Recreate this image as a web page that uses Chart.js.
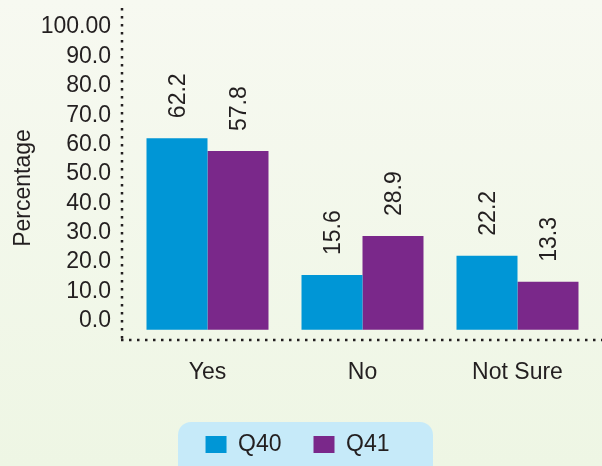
<!DOCTYPE html>
<html>
<head>
<meta charset="utf-8">
<script src="https://cdn.jsdelivr.net/npm/chart.js@4"></script>
<style>
    body { margin: 0; background: linear-gradient(#f7f9f1, #eef6e4); }
    #wrap { width: 602px; height: 466px; }
</style>
</head>
<body>
<div id="wrap"><canvas id="answerChart"></canvas></div>
<script>
const categories = ["Yes", "No", "Not Sure"];
const seriesNames = ["Q40", "Q41"];
const q40Values = [62.2, 15.6, 22.2];
const q41Values = [57.8, 28.9, 13.3];
const yTicks = [0, 10, 20, 30, 40, 50, 60, 70, 80, 90, 100];

const FONT = "'Liberation Sans', Arial, sans-serif";
const TEXT = "#231f20";

// dotted axes, rotated axis title, legend backdrop and value labels
const decorPlugin = {
    id: "decor",
    beforeDraw(chart) {
        const ctx = chart.ctx;
        const lg = chart.legend;
        ctx.save();
        ctx.fillStyle = "#c6eaf9";
        ctx.beginPath();
        ctx.roundRect(178, lg.top + 21, 255, 80, 13);
        ctx.fill();
        ctx.restore();
    },
    afterDatasetsDraw(chart) {
        const ctx = chart.ctx;
        const area = chart.chartArea;
        ctx.save();
        ctx.strokeStyle = TEXT;
        ctx.lineWidth = 2.5;
        ctx.setLineDash([2.5, 5.5]);
        ctx.beginPath();
        ctx.moveTo(122, area.top);
        ctx.lineTo(122, area.bottom);
        ctx.moveTo(121, area.bottom);
        ctx.lineTo(chart.width, area.bottom);
        ctx.stroke();
        ctx.setLineDash([]);

        ctx.fillStyle = TEXT;
        ctx.font = "23px " + FONT;
        ctx.textBaseline = "middle";

        ctx.save();
        ctx.translate(24, 188);
        ctx.rotate(-Math.PI / 2);
        ctx.textAlign = "center";
        ctx.fillText("Percentage", 0, 0);
        ctx.restore();

        chart.data.datasets.forEach((ds, i) => {
            chart.getDatasetMeta(i).data.forEach((bar, j) => {
                ctx.save();
                ctx.translate(bar.x + 1.5, bar.y - 20);
                ctx.rotate(-Math.PI / 2);
                ctx.textAlign = "left";
                ctx.fillText(ds.data[j].toFixed(1), 0, 0);
                ctx.restore();
            });
        });
        ctx.restore();
    }
};

new Chart(document.getElementById("answerChart"), {
    type: "bar",
    data: {
        labels: categories,
        datasets: [
            { label: seriesNames[0], data: q40Values, backgroundColor: "#0096d6" },
            { label: seriesNames[1], data: q41Values, backgroundColor: "#7a288a" }
        ]
    },
    options: {
        responsive: true,
        maintainAspectRatio: false,
        animation: false,
        layout: { padding: { top: 8, right: 7, left: 0, bottom: 0 } },
        datasets: {
            bar: { base: -3, categoryPercentage: 0.787, barPercentage: 1.0 }
        },
        scales: {
            x: {
                grid: { display: false, drawTicks: false },
                border: { display: false },
                ticks: { color: TEXT, font: { family: FONT, size: 23 }, padding: 19 },
                afterFit(scale) {
                    scale.height = 61;
                    scale.paddingLeft = 0;
                    scale.paddingRight = 0;
                }
            },
            y: {
                min: -6.5,
                max: 106.5,
                grid: { display: false, drawTicks: false },
                border: { display: false },
                afterBuildTicks(scale) {
                    scale.ticks = yTicks.map(v => ({ value: v }));
                },
                ticks: {
                    color: TEXT,
                    font: { family: FONT, size: 23 },
                    padding: 19,
                    autoSkip: false,
                    callback: v => (v === 100 ? "100.00" : v.toFixed(1))
                },
                afterFit(scale) {
                    scale.width = 130;
                    scale.paddingTop = 0;
                    scale.paddingBottom = 0;
                }
            }
        },
        plugins: {
            tooltip: { enabled: false },
            legend: {
                position: "bottom",
                labels: {
                    color: TEXT,
                    font: { family: FONT, size: 23 },
                    boxWidth: 21,
                    boxHeight: 17,
                    padding: 32
                }
            }
        }
    },
    plugins: [decorPlugin]
});
</script>
</body>
</html>
